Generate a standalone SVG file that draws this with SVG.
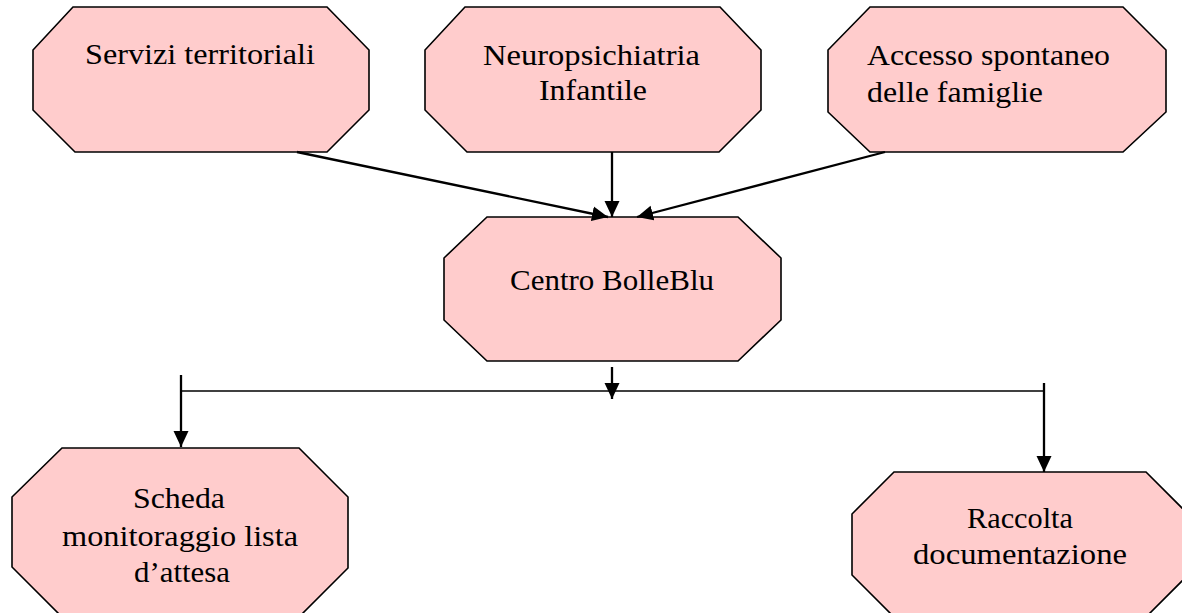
<svg xmlns="http://www.w3.org/2000/svg" width="1182" height="613" viewBox="0 0 1182 613">
<defs>
<marker id="arr" markerUnits="userSpaceOnUse" markerWidth="17" markerHeight="16" refX="16" refY="8" orient="auto">
<path d="M0,0.5 L16,8 L0,15.5 z" fill="#000"/>
</marker>
<style>
.node{fill:#FFCCCC;stroke:#000;stroke-width:1.6;stroke-linejoin:miter}
.pal{font-family:"Liberation Serif","Times New Roman",serif;font-size:29px;fill:#000}
.tms{font-family:"Liberation Serif","Times New Roman",serif;font-size:29px;fill:#000}
.c{fill:none;stroke:#000;stroke-width:2.3}
.h{fill:none;stroke:#000;stroke-width:1.6}
</style>
</defs>
<rect width="1182" height="613" fill="#fff"/>
<g id="n-servizi">
<polygon class="node" points="73,7 327,7 369,50 369,110 327,152 75,152 33,110 33,50"/>
<text class="pal" x="85" y="64" textLength="230" lengthAdjust="spacingAndGlyphs">Servizi territoriali</text>
</g>
<g id="n-neuro">
<polygon class="node" points="465,7 720,7 761,50 761,110 719,152 467,152 425,110 425,50"/>
<text class="pal" x="483" y="65" textLength="217" lengthAdjust="spacingAndGlyphs">Neuropsichiatria</text>
<text class="pal" x="539" y="100" textLength="108" lengthAdjust="spacingAndGlyphs">Infantile</text>
</g>
<g id="n-accesso">
<polygon class="node" points="870,7 1123,7 1166,50 1166,112 1123,152 870,152 828,112 828,50"/>
<text class="tms" x="867" y="65" textLength="243" lengthAdjust="spacingAndGlyphs">Accesso spontaneo</text>
<text class="tms" x="867" y="102" textLength="176" lengthAdjust="spacingAndGlyphs">delle famiglie</text>
</g>
<g id="n-centro">
<polygon class="node" points="487,217 738,217 781,258 781,320 738,361 487,361 444,320 444,258"/>
<text class="pal" x="510" y="290" textLength="204" lengthAdjust="spacingAndGlyphs">Centro BolleBlu</text>
</g>
<g id="n-scheda">
<polygon class="node" points="62,448 299,448 348,497 348,568 301,615 60,615 12,567 12,497"/>
<text class="pal" x="133" y="508" textLength="92" lengthAdjust="spacingAndGlyphs">Scheda</text>
<text class="pal" x="62" y="546" textLength="236" lengthAdjust="spacingAndGlyphs">monitoraggio lista</text>
<text class="pal" x="134" y="582" textLength="96" lengthAdjust="spacingAndGlyphs">d’attesa</text>
</g>
<g id="n-raccolta">
<polygon class="node" points="894,472 1146,472 1188,514 1188,575 1148,615 892,615 852,575 852,514"/>
<text class="pal" x="967" y="528" textLength="106" lengthAdjust="spacingAndGlyphs">Raccolta</text>
<text class="pal" x="913" y="564" textLength="214" lengthAdjust="spacingAndGlyphs">documentazione</text>
</g>
<g id="connectors">
<line class="c" x1="297" y1="152" x2="608" y2="217" marker-end="url(#arr)"/>
<line class="c" x1="612" y1="152" x2="612" y2="217" marker-end="url(#arr)"/>
<line class="c" x1="885" y1="152" x2="637" y2="217" marker-end="url(#arr)"/>
<line class="c" x1="612" y1="367" x2="612" y2="399" marker-end="url(#arr)"/>
<line class="h" x1="181" y1="391" x2="1044" y2="391"/>
<line class="c" x1="181" y1="375" x2="181" y2="447" marker-end="url(#arr)"/>
<line class="c" x1="1044" y1="383" x2="1044" y2="472" marker-end="url(#arr)"/>
</g>
</svg>
